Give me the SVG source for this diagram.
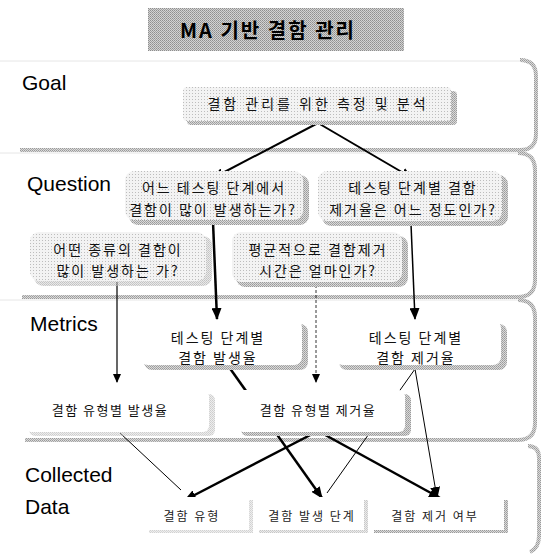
<svg xmlns="http://www.w3.org/2000/svg" width="543" height="554" viewBox="0 0 543 554">
<defs>
<marker id="ah" markerUnits="userSpaceOnUse" markerWidth="12" markerHeight="10" refX="11" refY="5" orient="auto">
<path d="M0,0 L12,5 L0,10 Z" fill="#000"/>
</marker>
<marker id="ahs" markerUnits="userSpaceOnUse" markerWidth="9" markerHeight="8" refX="8" refY="4" orient="auto">
<path d="M0,0 L9,4 L0,8 Z" fill="#000"/>
</marker>
<pattern id="dots" width="3" height="3" patternUnits="userSpaceOnUse">
<rect width="3" height="3" fill="#f3f3f3"/>
<rect width="1" height="1" fill="#bdbdbd"/>
</pattern>
<pattern id="halftone" width="2" height="2" patternUnits="userSpaceOnUse">
<rect width="2" height="2" fill="#dadada"/>
<rect width="1" height="1" fill="#9a9a9a"/>
<rect x="1" y="1" width="1" height="1" fill="#a8a8a8"/>
</pattern>
<pattern id="titlebg" width="2" height="2" patternUnits="userSpaceOnUse">
<rect width="2" height="2" fill="#d2d2d2"/>
<rect width="1" height="1" fill="#8e8e8e"/>
<rect x="1" y="1" width="1" height="1" fill="#a0a0a0"/>
</pattern>
</defs>
<style>
.lbl{font-family:"Liberation Sans",Arial,sans-serif;font-size:21px;fill:#000}
.kt{font-family:"Noto Sans CJK KR","Noto Sans",sans-serif;font-size:14px;fill:#111;text-anchor:middle;letter-spacing:2px}
.ks{font-family:"Noto Sans CJK KR","Noto Sans",sans-serif;font-size:12px;fill:#222;text-anchor:middle;letter-spacing:2px}
.pt{fill:none;stroke:#e6e6e6;stroke-width:1}
.pb{fill:none;stroke:url(#halftone);stroke-width:4}
.sh{fill:url(#halftone)}
.qf{fill:url(#dots)}
.wf{fill:#fff}
.c{fill:none;stroke:#000}
</style>
<rect width="543" height="554" fill="#fff"/>

<g id="title">
<rect x="148" y="8" width="256" height="43" fill="url(#titlebg)"/>
<text x="268" y="38" text-anchor="middle" style="font-family:'Noto Sans CJK KR','Noto Sans',sans-serif;font-size:20px;font-weight:bold;letter-spacing:2px" fill="#000">MA 기반 결함 관리</text>
</g>

<g id="panels">
<path class="pt" d="M0,61 H520"/>
<path class="pb" d="M520,60 Q536,60 536,76 V134 Q536,150 520,150 H20"/>
<path class="pt" d="M0,153 H518"/>
<path class="pb" d="M518,153 Q535,153 535,170 V280 Q535,297 518,297 H22"/>
<path class="pt" d="M0,300 H518"/>
<path class="pb" d="M518,300 Q535,300 535,317 V423 Q535,440 518,440 H25"/>
<path class="pb" d="M528,446 Q539,446 539,458 V536 Q539,548 530,552"/>
<text class="lbl" x="22" y="90">Goal</text>
<text class="lbl" x="27" y="191">Question</text>
<text class="lbl" x="30" y="331">Metrics</text>
<text class="lbl" x="25" y="482">Collected</text>
<text class="lbl" x="25" y="514">Data</text>
</g>

<g id="connectors">
<line class="c" stroke-width="2" x1="318" y1="123" x2="213" y2="178" marker-end="url(#ah)"/>
<line class="c" stroke-width="2" x1="318" y1="123" x2="412" y2="178" marker-end="url(#ah)"/>
<line class="c" stroke-width="2.5" x1="213" y1="222" x2="217" y2="319" marker-end="url(#ah)"/>
<line class="c" stroke-width="1.5" x1="411" y1="224" x2="415" y2="319" marker-end="url(#ah)"/>
<line class="c" stroke-width="1.2" x1="117" y1="282" x2="117" y2="382" marker-end="url(#ahs)"/>
<line class="c" stroke-width="0.8" stroke-dasharray="3 2" x1="316" y1="285" x2="316" y2="382" marker-end="url(#ahs)"/>
<line class="c" stroke-width="2.5" x1="229" y1="367" x2="322" y2="498" marker-end="url(#ah)"/>
<line class="c" stroke-width="1" x1="415" y1="369" x2="327" y2="493"/>
<line class="c" stroke-width="1" x1="415" y1="369" x2="437" y2="498" marker-end="url(#ah)"/>
<line class="c" stroke-width="2.5" x1="318" y1="431" x2="185" y2="500" marker-end="url(#ah)"/>
<line class="c" stroke-width="2.5" x1="318" y1="431" x2="440" y2="498" marker-end="url(#ah)"/>
<line class="c" stroke-width="1" x1="120" y1="433" x2="181" y2="490"/>
</g>

<g id="goal-node">
<rect class="sh" x="187" y="91" width="270" height="34" rx="4"/>
<rect class="qf" x="183" y="87" width="268" height="34" rx="4"/>
<text class="kt" x="318" y="109" style="letter-spacing:3px">결함 관리를 위한 측정 및 분석</text>
</g>

<g id="q1">
<rect class="sh" x="129" y="175" width="180" height="50" rx="9"/>
<rect class="qf" x="125" y="171" width="178" height="49" rx="9"/>
<text class="kt" x="214" y="193">어느 테스팅 단계에서</text>
<text class="kt" x="213" y="215">결함이 많이 발생하는가?</text>
</g>

<g id="q2">
<rect class="sh" x="322" y="175" width="186" height="51" rx="9"/>
<rect class="qf" x="318" y="171" width="184" height="50" rx="9"/>
<text class="kt" x="413" y="193">테스팅 단계별 결함</text>
<text class="kt" x="413" y="215">제거율은 어느 정도인가?</text>
</g>

<g id="q3">
<rect class="sh" x="34" y="236" width="178" height="50" rx="9" opacity="0.6"/>
<rect class="qf" x="30" y="232" width="176" height="49" rx="9"/>
<text class="kt" x="118" y="255">어떤 종류의 결함이</text>
<text class="kt" x="118" y="276">많이 발생하는 가?</text>
</g>

<g id="q4">
<rect class="sh" x="236" y="236" width="172" height="51" rx="9"/>
<rect class="qf" x="232" y="232" width="170" height="50" rx="9"/>
<text class="kt" x="318" y="255">평균적으로 결함제거</text>
<text class="kt" x="318" y="276">시간은 얼마인가?</text>
</g>

<g id="m1">
<rect class="sh" x="144" y="324" width="164" height="46" rx="8"/>
<rect class="wf" x="140" y="320" width="162" height="45" rx="8"/>
<text class="kt" x="218" y="343">테스팅 단계별</text>
<text class="kt" x="218" y="363">결함 발생율</text>
</g>

<g id="m2">
<rect class="sh" x="339" y="324" width="168" height="46" rx="8"/>
<rect class="wf" x="335" y="320" width="166" height="45" rx="8"/>
<text class="kt" x="416" y="343">테스팅 단계별</text>
<text class="kt" x="416" y="363">결함 제거율</text>
</g>

<g id="m3">
<rect class="sh" x="29" y="394" width="186" height="42" rx="6" opacity="0.5"/>
<rect class="wf" x="25" y="390" width="184" height="42" rx="6"/>
<text class="kt" x="110" y="415" style="font-size:13px;letter-spacing:1.5px">결함 유형별 발생율</text>
</g>

<g id="m4">
<rect class="sh" x="241" y="394" width="170" height="42" rx="6"/>
<rect class="wf" x="237" y="390" width="168" height="42" rx="6"/>
<text class="kt" x="318" y="415" style="font-size:13px;letter-spacing:1.5px">결함 유형별 제거율</text>
</g>

<g id="d1">
<rect class="sh" x="149" y="500" width="104" height="33" opacity="0.45"/>
<rect class="wf" x="145" y="497" width="104" height="33"/>
<text class="ks" x="192" y="521">결함 유형</text>
</g>

<g id="d2">
<rect class="sh" x="259" y="500" width="109" height="33" opacity="0.55"/>
<rect class="wf" x="255" y="497" width="109" height="33"/>
<text class="ks" x="312" y="521">결함 발생 단계</text>
</g>

<g id="d3">
<rect class="sh" x="374" y="500" width="134" height="33"/>
<rect class="wf" x="370" y="497" width="134" height="33"/>
<text class="ks" x="435" y="521">결함 제거 여부</text>
</g>
</svg>
